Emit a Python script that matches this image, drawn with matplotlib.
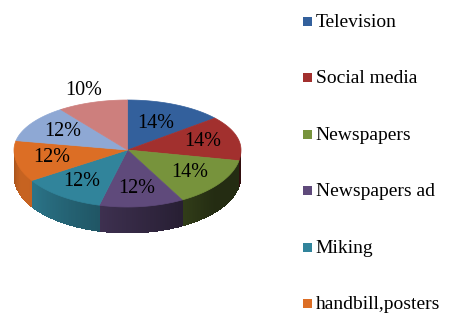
import numpy as np
import matplotlib
matplotlib.use("Agg")
import matplotlib.pyplot as plt
from matplotlib.patches import Polygon, Rectangle
from matplotlib.colors import to_rgb

# ---- data ----
categories = ["Television", "Social media", "Newspapers", "Newspapers ad",
              "Miking", "handbill,posters", "", ""]
values = [14, 14, 14, 12, 12, 12, 12, 10]
colors = ["#33609c", "#a2302e", "#77933c", "#5f4a7b",
          "#31849b", "#dc6e25", "#8ea8d4", "#cd7f7d"]
legend_count = 6

# ---- geometry (pixel space) ----
W, H = 451, 330
cx, cy = 127.5, 150.0
a = 113.5
b_back, b_front = 50.0, 57.0
depth = 26.0

fig = plt.figure(figsize=(W / 100, H / 100), dpi=100)
ax = fig.add_axes([0, 0, 1, 1])
ax.set_xlim(0, W)
ax.set_ylim(H, 0)
ax.axis("off")


def pt(theta, r=1.0):
    s = np.sin(theta)
    bb = b_back if s > 0 else b_front
    return cx + r * a * np.cos(theta), cy - r * bb * s


def shade(c, f):
    r, g, bl = to_rgb(c)
    return (r * f, g * f, bl * f)


def side_factor(deg):
    f = 0.9 - (deg - 210.0) / 110.0 * 0.6
    if deg < 200:
        f = 0.9 - (200 - deg) / 20.0 * 0.2
    return float(np.clip(f, 0.3, 0.9))


total = float(sum(values))
start = 90.0
angles = []
for v in values:
    ext = v / total * 360.0
    angles.append((start - ext, start))  # clockwise
    start -= ext

# sides (front half only)
for (t1, t2), col in zip(angles, colors):
    lo, hi = t1 % 360, t2 % 360
    if hi <= lo:
        hi += 360
    segs = []
    for base in (0, 360):
        s0, s1 = max(lo, 180 + base), min(hi, 360 + base)
        if s1 > s0:
            segs.append((s0, s1))
    for s0, s1 in segs:
        n = max(2, int((s1 - s0) / 1.0))
        edges = np.linspace(s0, s1, n + 1)
        for k, (e0, e1) in enumerate(zip(edges[:-1], edges[1:])):
            e1x = min(e1 + 0.8, s1)
            th = np.radians(np.linspace(e0, e1x, 4))
            top = [pt(t) for t in th]
            bot = [(x, y + depth) for x, y in top[::-1]]
            f = side_factor(((e0 + e1) / 2) % 360)
            ax.add_patch(Polygon(top + bot, closed=True,
                                 facecolor=shade(col, f),
                                 edgecolor="none", antialiased=False))

# top faces
for (t1, t2), col in zip(angles, colors):
    th = np.radians(np.linspace(t1, t2, 80))
    pts = [(cx, cy)] + [pt(t) for t in th]
    ax.add_patch(Polygon(pts, closed=True, facecolor=col, edgecolor=col,
                         linewidth=0.5))

# percentage labels
for i, ((t1, t2), v) in enumerate(zip(angles, values)):
    mid = np.radians((t1 + t2) / 2)
    r = 0.68
    if i == 0:
        r = 0.58
    if i == len(values) - 1:
        r = 1.25
    x, y = pt(mid, r)
    ax.text(x, y, f"{v}%", ha="center", va="center", fontsize=14.5,
            family="Liberation Serif", color="black")

# legend
leg_y = [21, 77, 134, 190, 247, 303]
for i in range(legend_count):
    y = leg_y[i]
    ax.add_patch(Rectangle((302.5, y - 4.5), 9, 9, facecolor=colors[i],
                           edgecolor="none"))
    ax.text(315.5, y + 6, categories[i], ha="left", va="baseline",
            fontsize=14, family="Liberation Serif", color="black")

fig.savefig("out.png", dpi=100, facecolor="white")
